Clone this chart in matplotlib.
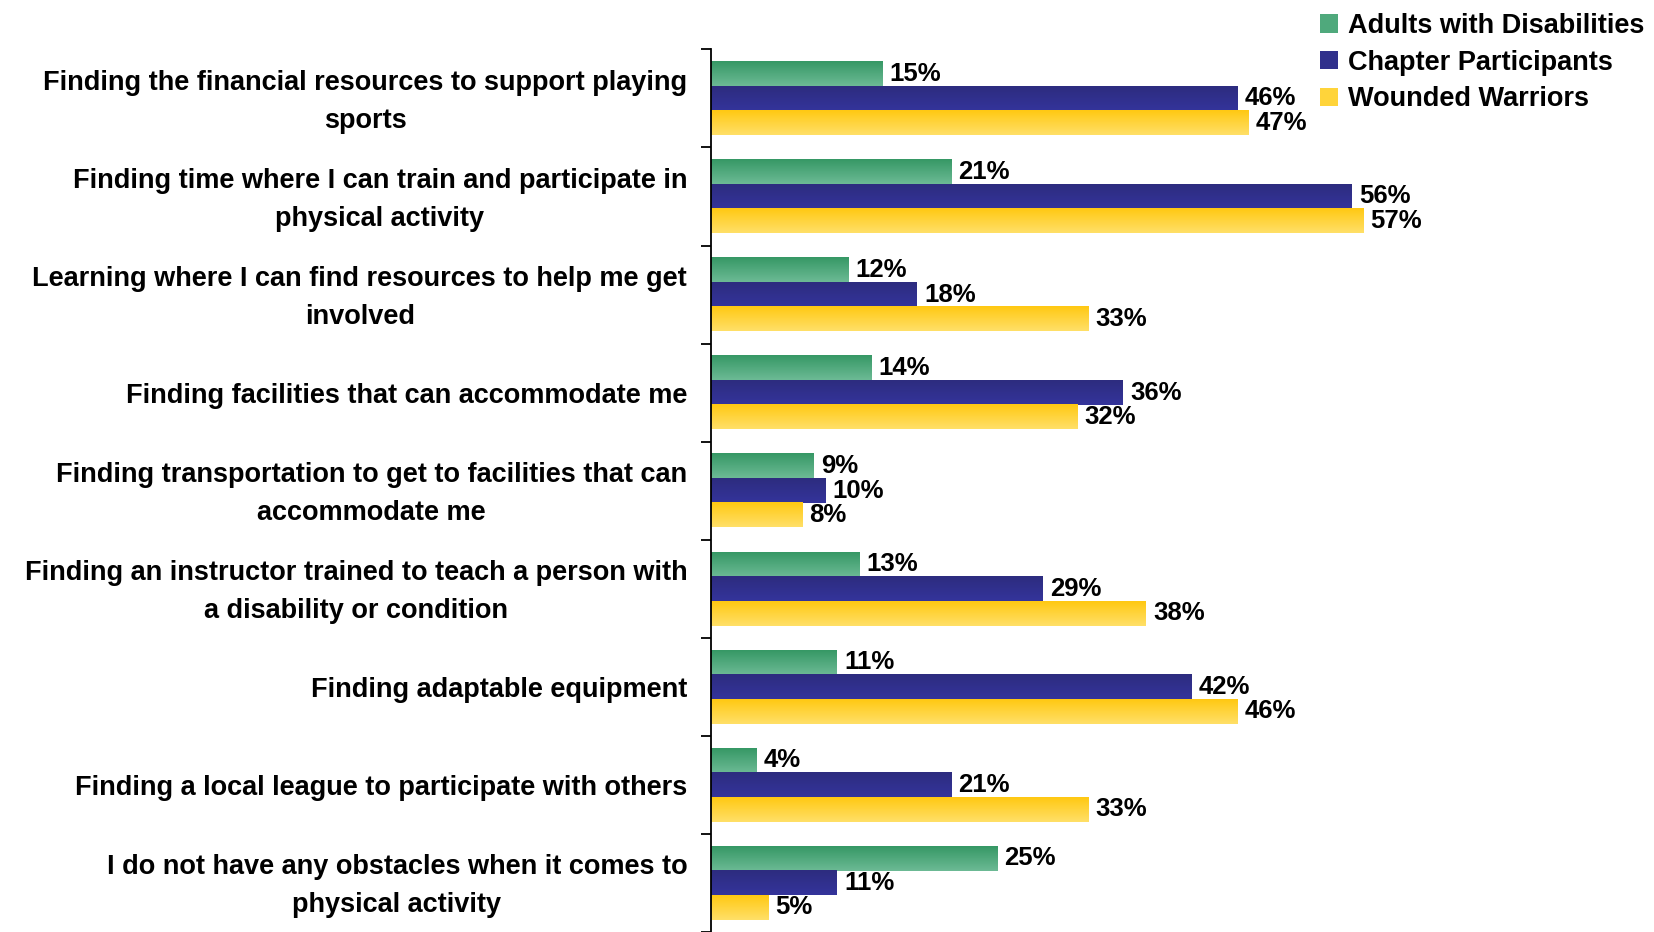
import numpy as np
import matplotlib.pyplot as plt
import matplotlib.transforms as mtransforms
from matplotlib.colors import LinearSegmentedColormap
from matplotlib.patches import Patch

plt.rcParams['font.family'] = ['Liberation Sans', 'DejaVu Sans']
plt.rcParams['font.weight'] = 'bold'

categories = [
    "Finding the financial resources to support playing\nsports",
    "Finding time where I can train and participate in\nphysical activity",
    "Learning where I can find resources to help me get\ninvolved",
    "Finding facilities that can accommodate me",
    "Finding transportation to get to facilities that can\naccommodate me",
    "Finding an instructor trained to teach a person with\na disability or condition",
    "Finding adaptable equipment",
    "Finding a local league to participate with others",
    "I do not have any obstacles when it comes to\nphysical activity",
]
series_names = ["Adults with Disabilities", "Chapter Participants", "Wounded Warriors"]
adults = [15, 21, 12, 14, 9, 13, 11, 4, 25]
chapter = [46, 56, 18, 36, 10, 29, 42, 21, 11]
warriors = [47, 57, 33, 32, 8, 38, 46, 33, 5]

# top / bottom colour of each bar's vertical gradient
grad_colors = [("#369865", "#6cba95"), ("#2d2c7f", "#34349b"), ("#ffc812", "#ffe068")]
legend_colors = ["#4fa97c", "#30308c", "#ffd43a"]

fig = plt.figure(figsize=(16.54, 9.32), dpi=100)
ax = fig.add_axes([0.43, 0.0, 0.57, 0.947])

n = len(categories)
y = np.arange(n)
h = 0.25
grad = np.linspace(0, 1, 64).reshape(-1, 1)

for k, vals in enumerate([adults, chapter, warriors]):
    pos = y - h + k * h
    bars = ax.barh(pos, vals, height=h, color="none", edgecolor="none")
    cmap = LinearSegmentedColormap.from_list("g%d" % k, grad_colors[k])
    for b, v in zip(bars, vals):
        x0, y0 = b.get_x(), b.get_y()
        ax.imshow(grad, extent=(x0, x0 + b.get_width(), y0 + b.get_height(), y0),
                  origin="upper", aspect="auto", cmap=cmap, zorder=2)
        ax.text(v + 0.6, y0 + b.get_height() / 2, "%d%%" % v, va="center", ha="left",
                fontsize=18.5, fontweight="bold", zorder=3)

ax.set_xlim(0, 82.4)
ax.set_ylim(n - 0.5, -0.5)

for s in ["top", "right", "bottom"]:
    ax.spines[s].set_visible(False)
ax.spines["left"].set_linewidth(1.3)
ax.set_xticks([])

ax.set_yticks(np.arange(n + 1) - 0.5)
ax.set_yticklabels([])
ax.tick_params(axis="y", which="major", length=7, width=1.3, direction="out")

# category labels, right-aligned left of the axis line
lab_tr = ax.get_yaxis_transform() + mtransforms.ScaledTranslation(-17.3 / 72, -2.3 / 72, fig.dpi_scale_trans)
for yi, lab in zip(y, categories):
    ax.text(0, yi, lab, transform=lab_tr, ha="right", va="center", multialignment="center",
            linespacing=1.6, fontsize=19.5, fontweight="bold", clip_on=False)

handles = [Patch(facecolor=c, edgecolor="none") for c in legend_colors]
fig.legend(handles, series_names, loc="upper right", bbox_to_anchor=(1.009, 1.012),
           frameon=False, prop={"size": 19.5, "weight": "bold"},
           handlelength=0.67, handleheight=0.67, handletextpad=0.37, labelspacing=0.39)

fig.savefig("out.png", dpi=100)
